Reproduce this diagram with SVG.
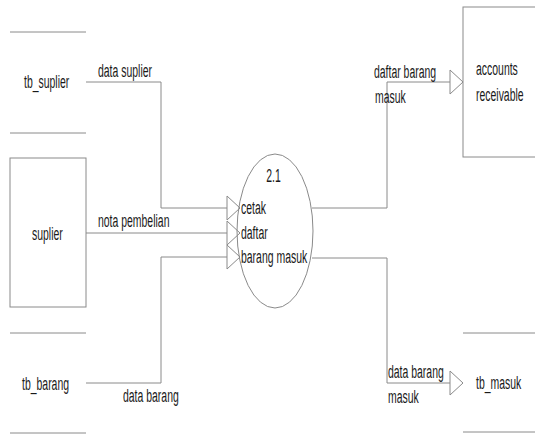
<svg xmlns="http://www.w3.org/2000/svg" width="535" height="434" viewBox="0 0 535 434">
  <style>
    .ln { fill: none; stroke: #8a8a8a; stroke-width: 1; }
    .tx { font-family: "Liberation Sans", Arial, sans-serif; font-size: 19px; fill: #1a1a1a; }
  </style>
  <defs>
    <!-- open triangular arrowhead, tip at origin -->
    <polygon id="head" points="-13,-12 0,0 -13,12" fill="#ffffff" stroke="#8a8a8a" stroke-width="1"/>
  </defs>
  <rect width="535" height="434" fill="#ffffff"/>

  <g id="connectors">
    <!-- tb_suplier -> 2.1 -->
    <polyline class="ln" points="86,82 161,82 161,208 227,208"/>
    <!-- suplier -> 2.1 -->
    <polyline class="ln" points="86,233 227,233"/>
    <!-- tb_barang -> 2.1 -->
    <polyline class="ln" points="86,383 161,383 161,257 227,257"/>
    <!-- 2.1 -> accounts receivable -->
    <polyline class="ln" points="312,208 387,208 387,82 450,82"/>
    <!-- 2.1 -> tb_masuk -->
    <polyline class="ln" points="312,258 387,258 387,383 450,383"/>
    <use href="#head" x="240" y="208"/>
    <use href="#head" x="240" y="233"/>
    <use href="#head" x="240" y="257"/>
    <use href="#head" x="463" y="82"/>
    <use href="#head" x="463" y="383"/>
    <text class="tx" transform="translate(98,77) scale(0.55,1)">data suplier</text>
    <text class="tx" transform="translate(98,227) scale(0.55,1)">nota pembelian</text>
    <text class="tx" transform="translate(123,402) scale(0.55,1)">data barang</text>
    <text class="tx" transform="translate(374,78) scale(0.55,1)">daftar barang</text>
    <text class="tx" transform="translate(375,103) scale(0.55,1)">masuk</text>
    <text class="tx" transform="translate(388,378) scale(0.55,1)">data barang</text>
    <text class="tx" transform="translate(388,403) scale(0.55,1)">masuk</text>
  </g>

  <g id="tb_suplier">
    <line class="ln" x1="10" y1="32" x2="86" y2="32"/>
    <line class="ln" x1="10" y1="133" x2="86" y2="133"/>
    <text class="tx" transform="translate(24,88) scale(0.55,1)">tb_suplier</text>
  </g>

  <g id="suplier">
    <rect class="ln" x="10" y="158" width="76" height="149"/>
    <text class="tx" transform="translate(32,240) scale(0.55,1)">suplier</text>
  </g>

  <g id="tb_barang">
    <line class="ln" x1="10" y1="333" x2="86" y2="333"/>
    <line class="ln" x1="10" y1="433" x2="86" y2="433"/>
    <text class="tx" transform="translate(22,390) scale(0.55,1)">tb_barang</text>
  </g>

  <g id="process-2-1">
    <ellipse class="ln" cx="275" cy="231" rx="38" ry="77"/>
    <text class="tx" text-anchor="middle" transform="translate(273.5,182) scale(0.55,1)">2.1</text>
    <text class="tx" transform="translate(241,214) scale(0.55,1)">cetak</text>
    <text class="tx" transform="translate(241,239) scale(0.55,1)">daftar</text>
    <text class="tx" transform="translate(241,263) scale(0.55,1)">barang masuk</text>
  </g>

  <g id="accounts-receivable">
    <rect class="ln" x="463" y="7" width="80" height="150"/>
    <text class="tx" transform="translate(476,75) scale(0.55,1)">accounts</text>
    <text class="tx" transform="translate(476,101) scale(0.55,1)">receivable</text>
  </g>

  <g id="tb_masuk">
    <line class="ln" x1="463" y1="333" x2="535" y2="333"/>
    <line class="ln" x1="463" y1="432" x2="535" y2="432"/>
    <text class="tx" transform="translate(476,389) scale(0.55,1)">tb_masuk</text>
  </g>
</svg>
